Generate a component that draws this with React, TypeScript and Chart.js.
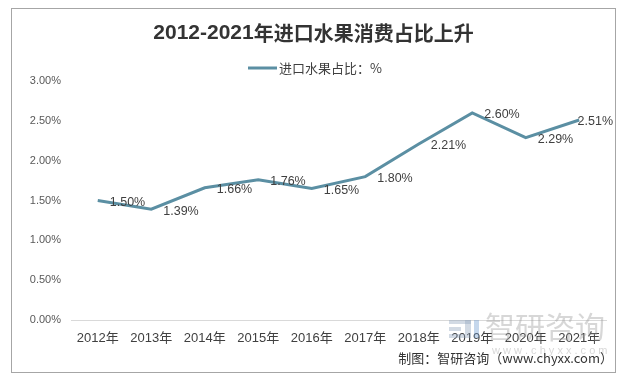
import React, { useEffect, useRef } from "react";
import { Chart, registerables } from "chart.js";

Chart.register(...registerables);

const categories = ["2012年", "2013年", "2014年", "2015年", "2016年", "2017年", "2018年", "2019年", "2020年", "2021年"];
const shareValues = [1.50, 1.39, 1.66, 1.76, 1.65, 1.80, 2.21, 2.60, 2.29, 2.51];
const yTicks = [0, 0.5, 1.0, 1.5, 2.0, 2.5, 3.0];
const seriesName = "进口水果占比：%";
const titleNum = "2012-2021";
const titleText = "年进口水果消费占比上升";
const sourceText = "制图：智研咨询（www.chyxx.com）";
const watermarkText = "智研咨询";
const watermarkUrl = "w w w . c h y x x . c o m";

const LINE_COLOR = "#5B8FA3";
const CJK = "'Noto Sans CJK SC'";
const LATIN = "'Liberation Sans', 'Noto Sans CJK SC'";

const decor = {
  id: "decor",
  beforeDraw(chart: any) {
    const ctx = chart.ctx;
    ctx.save();
    ctx.fillStyle = "#FFFFFF";
    ctx.fillRect(0, 0, chart.width, chart.height);
    ctx.restore();
  },
  afterDatasetsDraw(chart: any) {
    const ctx = chart.ctx;
    const meta = chart.getDatasetMeta(0);
    ctx.save();
    ctx.font = `12.5px ${LATIN}`;
    ctx.fillStyle = "#404040";
    ctx.textAlign = "left";
    ctx.textBaseline = "middle";
    meta.data.forEach((pt: any, i: number) => {
      const txt = shareValues[i].toFixed(2) + "%";
      const w = ctx.measureText(txt).width;
      let x = pt.x + 12;
      if (x + w > 613) x = 613 - w;
      ctx.fillText(txt, x, pt.y + 2);
    });
    ctx.restore();
  },
  afterDraw(chart: any) {
    const ctx = chart.ctx;
    ctx.save();
    // outer border
    ctx.strokeStyle = "#A6A6A6";
    ctx.lineWidth = 1;
    ctx.strokeRect(11.5, 8.5, 604, 364);

    // title
    ctx.textBaseline = "middle";
    ctx.textAlign = "left";
    const fNum = `bold 21px 'Liberation Sans Narrow', ${LATIN}`;
    const fCjk = `bold 20px ${CJK}`;
    ctx.font = fNum;
    const w1 = ctx.measureText(titleNum).width;
    ctx.font = fCjk;
    const w2 = ctx.measureText(titleText).width;
    const tx = 313.5 - (w1 + w2) / 2;
    ctx.fillStyle = "#333333";
    ctx.font = fNum;
    ctx.fillText(titleNum, tx, 33);
    ctx.font = fCjk;
    ctx.fillText(titleText, tx + w1, 33);

    // legend
    ctx.font = `13px ${CJK}`;
    const lw = ctx.measureText(seriesName).width;
    const lx = 315 - (29 + 2 + lw) / 2;
    ctx.strokeStyle = LINE_COLOR;
    ctx.lineWidth = 3;
    ctx.beginPath();
    ctx.moveTo(lx, 68);
    ctx.lineTo(lx + 29, 68);
    ctx.stroke();
    ctx.fillStyle = "#404040";
    ctx.fillText(seriesName, lx + 31, 68);

    // watermark
    ctx.globalAlpha = 0.4;
    ctx.fillStyle = "#8FA3BC";
    ctx.fillRect(449, 320, 22, 4);
    ctx.fillRect(449, 327, 12, 4);
    ctx.fillRect(449, 334, 22, 4);
    ctx.fillRect(465, 320, 6, 14);
    ctx.fillStyle = "#6F9BD0";
    ctx.fillRect(474, 320, 5, 18);
    ctx.fillStyle = "#9A9A9A";
    ctx.font = `30px ${CJK}`;
    ctx.fillText(watermarkText, 485, 327);
    ctx.font = `11px ${LATIN}`;
    ctx.fillText(watermarkUrl, 492, 351);
    ctx.globalAlpha = 1;

    // source
    ctx.fillStyle = "#333333";
    ctx.font = `13px ${CJK}`;
    ctx.textAlign = "right";
    ctx.fillText(sourceText, 613, 358);
    ctx.restore();
  },
};

export default function App() {
  const ref = useRef<HTMLCanvasElement>(null);
  useEffect(() => {
    document.body.style.margin = "0";
    const chart = new Chart(ref.current as HTMLCanvasElement, {
      type: "line",
      data: {
        labels: categories,
        datasets: [
          {
            label: seriesName,
            data: shareValues,
            borderColor: LINE_COLOR,
            backgroundColor: LINE_COLOR,
            borderWidth: 3,
            pointRadius: 0,
            tension: 0,
            fill: false,
          },
        ],
      },
      options: {
        responsive: false,
        animation: false,
        devicePixelRatio: 1,
        layout: { padding: { top: 81, right: 17, left: 0, bottom: 0 } },
        plugins: {
          legend: { display: false },
          title: { display: false },
          tooltip: { enabled: false },
        },
        scales: {
          x: {
            offset: true,
            grid: { display: false, drawTicks: false },
            border: { display: true, color: "#D9D9D9", width: 1 },
            ticks: {
              color: "#404040",
              font: { size: 13, family: "'Liberation Sans', 'Noto Sans CJK SC'" },
              padding: 11,
              maxRotation: 0,
              autoSkip: false,
            },
            afterFit: (s: any) => {
              s.height = 58;
            },
          },
          y: {
            min: 0,
            max: 3,
            afterBuildTicks: (axis: any) => {
              axis.ticks = yTicks.map((v) => ({ value: v }));
            },
            ticks: {
              callback: (v: any) => Number(v).toFixed(2) + "%",
              padding: 10,
              color: "#595959",
              font: { size: 11, family: "'Liberation Sans', 'Noto Sans CJK SC'" },
            },
            grid: { display: false, drawTicks: false },
            border: { display: false },
            afterFit: (s: any) => {
              s.width = 71;
            },
          },
        },
      },
      plugins: [decor],
    });
    return () => chart.destroy();
  }, []);
  return (
    <div style={{ position: "absolute", left: 0, top: 0, width: 623, height: 378, background: "#fff" }}>
      <canvas ref={ref} width={623} height={378} style={{ display: "block", width: 623, height: 378 }} />
    </div>
  );
}
